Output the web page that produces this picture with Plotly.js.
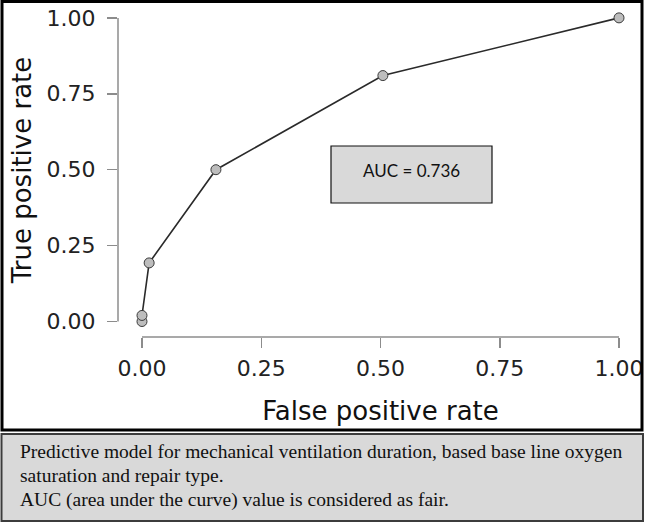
<!DOCTYPE html>
<html>
<head>
<meta charset="utf-8">
<script src="https://cdn.plot.ly/plotly-3.0.1.min.js"></script>
<style>html,body{margin:0;padding:0;background:#fff;}#chart{width:646px;height:523px;}</style>
</head>
<body>
<div id="chart"></div>
<script>
// ROC curve points
const falsePositiveRate = [0, 0, 0.015, 0.155, 0.505, 1];
const truePositiveRate  = [0, 0.02, 0.193, 0.5, 0.81, 1];
const tickValues = [0, 0.25, 0.5, 0.75, 1];
const tickLabels = ['0.00', '0.25', '0.50', '0.75', '1.00'];
const aucLabel = 'AUC = 0.736';
const captionLines = [
  'Predictive model for mechanical ventilation duration, based base line oxygen',
  'saturation and repair type.',
  'AUC (area under the curve) value is considered as fair.'
];

// pixel helpers (plot area: x 118..643, y 3..337)
const PL = 118, PW = 525, PB = 337, PH = 334;
const px = v => (v - PL) / PW;
const py = v => (PB - v) / PH;

const axisGray = '#8c8c8c';
const tickFont = {family: 'DejaVu Sans', size: 22, color: '#222'};
const titleFont = {family: 'DejaVu Sans', size: 26, color: '#111'};

const trace = {
  x: falsePositiveRate,
  y: truePositiveRate,
  type: 'scatter',
  mode: 'lines+markers',
  line: {color: '#2a2a2a', width: 1.6},
  marker: {size: 10, color: '#bdbdbd', line: {color: '#3a3a3a', width: 1}},
  cliponaxis: false,
  hoverinfo: 'x+y'
};

const captionYs = [452, 475.5, 500];
const annotations = [
  {xref: 'paper', yref: 'paper', x: px(411), y: py(170), text: aucLabel, showarrow: false,
   xanchor: 'center', yanchor: 'middle', font: {family: 'Lato', size: 17, color: '#111'}}
].concat(captionLines.map((t, i) => ({
  xref: 'paper', yref: 'paper', x: px(18), y: py(captionYs[i]), text: t, showarrow: false,
  xanchor: 'left', yanchor: 'middle', align: 'left',
  font: {family: 'Liberation Serif', size: 19.5, color: '#111'}
})));

const shapes = [
  // range-frame axis lines
  {type: 'line', xref: 'paper', yref: 'y', x0: 0, x1: 0, y0: 0, y1: 1, line: {color: axisGray, width: 1.5}},
  {type: 'line', xref: 'x', yref: 'paper', x0: 0, x1: 1, y0: 0, y1: 0, line: {color: axisGray, width: 1.5}},
  // AUC box
  {type: 'rect', xref: 'paper', yref: 'paper', x0: px(331), x1: px(492), y0: py(203), y1: py(146),
   fillcolor: '#d9d9d9', line: {color: '#111', width: 1.2}, layer: 'below'},
  // outer chart border
  {type: 'rect', xref: 'paper', yref: 'paper', x0: px(2), x1: px(642), y0: py(430), y1: py(1.5),
   line: {color: '#000', width: 3}},
  // caption box
  {type: 'rect', xref: 'paper', yref: 'paper', x0: px(1.5), x1: px(643), y0: py(521), y1: py(434),
   fillcolor: '#d9d9d9', line: {color: '#3c3c3c', width: 2}, layer: 'below'}
];

const layout = {
  width: 646,
  height: 523,
  margin: {l: 118, r: 3, t: 3, b: 186, pad: 0},
  paper_bgcolor: '#fff',
  plot_bgcolor: '#fff',
  showlegend: false,
  xaxis: {
    range: [-0.0503, 1.0503],
    tickvals: tickValues, ticktext: tickLabels,
    ticks: 'outside', ticklen: 10, tickwidth: 1.5, tickcolor: axisGray,
    ticklabelstandoff: 2,
    showgrid: false, zeroline: false, showline: false,
    tickfont: tickFont,
    title: {text: 'False positive rate', font: titleFont, standoff: 21},
    automargin: false, fixedrange: true
  },
  yaxis: {
    range: [-0.051, 1.049],
    tickvals: tickValues, ticktext: tickLabels,
    ticks: 'outside', ticklen: 10, tickwidth: 1.5, tickcolor: axisGray,
    ticklabelstandoff: 7,
    showgrid: false, zeroline: false, showline: false,
    tickfont: tickFont,
    title: {text: 'True positive rate', font: titleFont, standoff: 7},
    automargin: false, fixedrange: true
  },
  shapes: shapes,
  annotations: annotations
};

Plotly.newPlot('chart', [trace], layout, {displayModeBar: false, staticPlot: true});
</script>
</body>
</html>
